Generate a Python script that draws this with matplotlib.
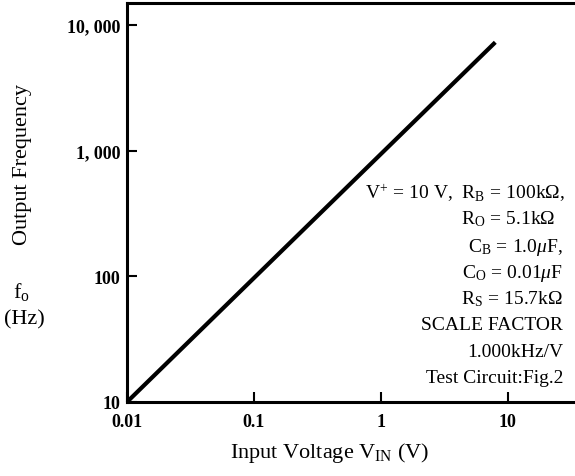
import matplotlib
matplotlib.use("Agg")
import matplotlib.pyplot as plt
from matplotlib.ticker import FixedLocator, FixedFormatter, NullLocator

plt.rcParams['font.family'] = ['Liberation Serif', 'DejaVu Serif']
plt.rcParams['mathtext.fontset'] = 'custom'
plt.rcParams['mathtext.rm'] = 'Liberation Serif'
plt.rcParams['mathtext.it'] = 'Liberation Serif:italic'

# Data
vin = [0.01, 8.0]
fout = [10, 7300]

x_ticks = [0.01, 0.1, 1, 10]
x_labels = ["0.01", "0.1", "1", "10"]
y_ticks = [10, 100, 1000, 10000]
y_labels = ["10", "100", "1, 000", "10, 000"]

W, H = 575, 477
fig = plt.figure(figsize=(W / 100, H / 100), dpi=100)
L, R, T, B = 127, 575, 4, 403
ax = fig.add_axes([L / W, 1 - B / H, (R - L) / W, (B - T) / H])

ax.plot(vin, fout, color='black', linewidth=3.0, solid_capstyle='butt')

ax.set_xscale('log')
ax.set_yscale('log')
ax.set_xlim(0.01, 34)
ax.set_ylim(10, 15000)

ax.xaxis.set_major_locator(FixedLocator(x_ticks))
ax.xaxis.set_major_formatter(FixedFormatter(x_labels))
ax.yaxis.set_major_locator(FixedLocator(y_ticks))
ax.yaxis.set_major_formatter(FixedFormatter(y_labels))
ax.xaxis.set_minor_locator(NullLocator())
ax.yaxis.set_minor_locator(NullLocator())

ax.tick_params(direction='in', length=7, width=1.5, labelsize=13)
ax.tick_params(axis='y', pad=5)
ax.tick_params(axis='x', pad=8)
for lab in ax.get_xticklabels() + ax.get_yticklabels():
    lab.set_fontweight('bold')

for s in ['left', 'bottom', 'top']:
    ax.spines[s].set_linewidth(2.2)
ax.spines['right'].set_visible(False)


def ftext(x, y, s, **kw):
    fig.text(x / W, 1 - y / H, s, va='center', **kw)


# axis labels
ftext(330, 453, r"Input Voltage V$_{\rm IN}$ (V)", ha='center', fontsize=16)
ftext(23, 165, "Output Frequency", ha='center', rotation=90, fontsize=16)
ftext(21, 292, r"f$_{\rm o}$", ha='center', fontsize=16)
ftext(24, 320, "(Hz)", ha='center', fontsize=16)

# annotation block
fs = 14
eq = r"$\,=\,$"
ftext(365, 193, "V$^{+}$" + eq + "10 V,  R$_{\\rm B}$" + eq + "100kΩ,", ha='left', fontsize=fs)
ftext(461, 219, "R$_{\\rm O}$" + eq + "5.1kΩ", ha='left', fontsize=fs)
notes = ["C$_{\\rm B}$" + eq + "1.0$\\mu$F,",
         "C$_{\\rm O}$" + eq + "0.01$\\mu$F",
         "R$_{\\rm S}$" + eq + "15.7kΩ",
         "SCALE FACTOR", "1.000kHz/V", "Test Circuit:Fig.2"]
for i, s in enumerate(notes):
    ftext(563, 247 + 26.3 * i, s, ha='right', fontsize=fs)

fig.savefig("out.png", dpi=100)
